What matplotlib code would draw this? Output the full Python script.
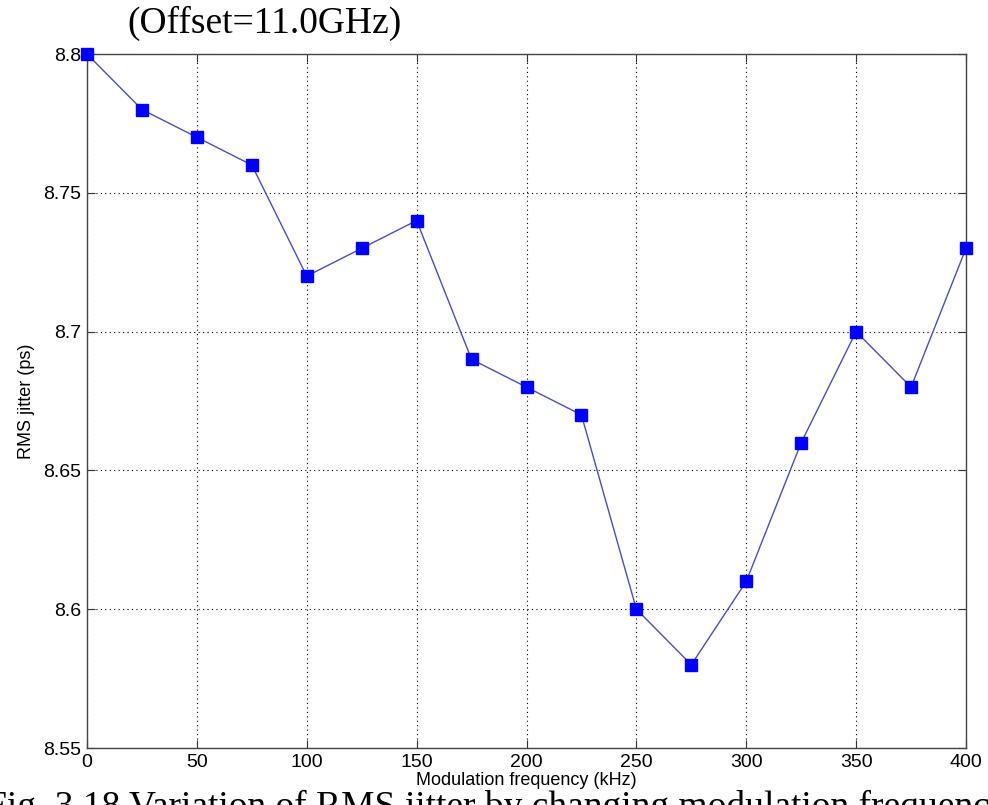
import matplotlib
matplotlib.use("Agg")
import matplotlib.pyplot as plt
import numpy as np

# modulation frequency (kHz) and measured RMS jitter (ps)
freq_khz = [0, 25, 50, 75, 100, 125, 150, 175, 200, 225, 250, 275, 300, 325, 350, 375, 400]
rms_jitter = [8.80, 8.78, 8.77, 8.76, 8.72, 8.73, 8.74, 8.69, 8.68, 8.67,
              8.60, 8.58, 8.61, 8.66, 8.70, 8.68, 8.73]
x_ticks = [0, 50, 100, 150, 200, 250, 300, 350, 400]
y_ticks = [8.55, 8.6, 8.65, 8.7, 8.75, 8.8]
y_tick_labels = ["8.55", "8.6", "8.65", "8.7", "8.75", "8.8"]

W, H = 988, 805
fig = plt.figure(figsize=(W / 100, H / 100), dpi=100)
# axes box in pixels: left 87, right 966, top 54, bottom 748
ax = fig.add_axes([87 / W, 1 - 748 / H, (966 - 87) / W, (748 - 54) / H])

ax.plot(freq_khz, rms_jitter, color="#4b4bc8", lw=1.0, marker="s",
        markersize=8, markerfacecolor="#0000ff", markeredgecolor="#0000ff",
        clip_on=False, zorder=3)

ax.set_xlim(0, 400)
ax.set_ylim(8.55, 8.8)
ax.set_xticks(x_ticks)
ax.set_yticks(y_ticks)
ax.set_yticklabels(y_tick_labels)

for lab in ax.get_xticklabels() + ax.get_yticklabels():
    lab.set_fontfamily("Liberation Sans")
    lab.set_fontsize(14)

ax.tick_params(direction="in", top=True, right=True, length=6, width=0.8,
               color="#333333", pad=4)
ax.grid(True, linestyle=(0, (1, 3)), color="black", lw=0.8)
for s in ax.spines.values():
    s.set_color("#444444")
    s.set_linewidth(1.0)

label_font = {"family": "Liberation Sans", "size": 13}
ax.set_xlabel("Modulation frequency (kHz)", fontdict=label_font, labelpad=1)
ax.set_ylabel("RMS jitter (ps)", fontdict=label_font, labelpad=6)

# title above the plot and the figure caption cut at the bottom edge
fig.text(127 / W, 1 - 6 / H, "(Offset=11.0GHz)", family="Liberation Serif",
         size=27, va="top", ha="left")
fig.text(-14 / W, 1 - 790 / H,
         "Fig. 3.18 Variation of RMS jitter by changing modulation frequency",
         family="Liberation Serif", size=27, va="top", ha="left")

fig.savefig("out.png", dpi=100)
